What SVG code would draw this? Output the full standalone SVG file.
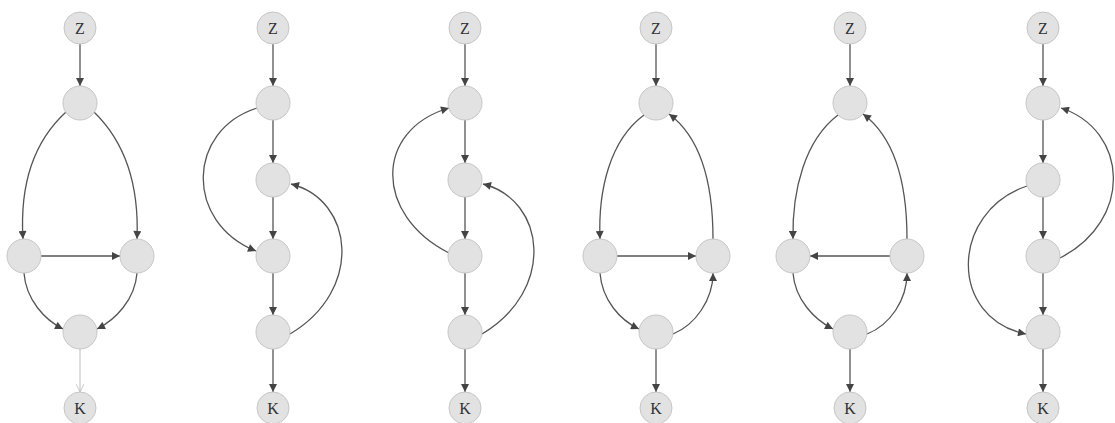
<svg xmlns="http://www.w3.org/2000/svg" width="1115" height="423" viewBox="0 0 1115 423">
<style>
.n{fill:#e2e2e2;stroke:#c6c6c6;stroke-width:1}
.t{font-family:"Liberation Serif",serif;font-size:16px;fill:#333;text-anchor:middle;dominant-baseline:central}
.e{fill:none;stroke:#555;stroke-width:1.3;marker-end:url(#ah)}
.f{fill:none;stroke:#aaa;stroke-width:0.8;marker-end:url(#ahl)}
</style>
<defs>
<marker id="ah" viewBox="0 0 10 10" refX="10" refY="5" markerUnits="userSpaceOnUse" markerWidth="10" markerHeight="8" orient="auto">
<path d="M0,0 L10,5 L0,10 z" fill="#444"/>
</marker>
<marker id="ahl" viewBox="0 0 10 10" refX="10" refY="5" markerUnits="userSpaceOnUse" markerWidth="10" markerHeight="8" orient="auto">
<path d="M0,0 L10,5 L0,10" fill="none" stroke="#bbb" stroke-width="1"/>
</marker>
</defs>
<g id="edges">
<!-- diagram 1 -->
<path class="e" d="M80,44 L80,86"/>
<path class="e" d="M66,112 C30,145 20,190 23,239"/>
<path class="e" d="M94,112 C128,145 139,190 137,239"/>
<path class="e" d="M41,256 L120,256"/>
<path class="e" d="M24,273 C26,300 45,320 63,329"/>
<path class="e" d="M137,273 C135,300 115,320 97,329"/>
<path class="f" d="M80,349 L80,392"/>
<!-- diagram 2 -->
<path class="e" d="M273,44 L273,86"/>
<path class="e" d="M273,120 L273,163"/>
<path class="e" d="M273,197 L273,239"/>
<path class="e" d="M273,273 L273,315"/>
<path class="e" d="M273,349 L273,392"/>
<path class="e" d="M257,108 C187,130 184,222 256,251"/>
<path class="e" d="M290,334 C364,290 354,200 291,184"/>
<!-- diagram 3 -->
<path class="e" d="M465,44 L465,86"/>
<path class="e" d="M465,120 L465,163"/>
<path class="e" d="M465,197 L465,239"/>
<path class="e" d="M465,273 L465,315"/>
<path class="e" d="M465,349 L465,392"/>
<path class="e" d="M449,253 C374,215 374,130 449,108"/>
<path class="e" d="M482,334 C556,290 546,200 483,184"/>
<!-- diagram 4 -->
<path class="e" d="M656,44 L656,86"/>
<path class="e" d="M644,115 C610,140 598,190 600,239"/>
<path class="e" d="M713,239 C713,190 704,140 669,114"/>
<path class="e" d="M617,256 L696,256"/>
<path class="e" d="M600,273 C602,300 620,320 639,329"/>
<path class="e" d="M673,334 C695,325 713,300 713,273"/>
<path class="e" d="M656,349 L656,392"/>
<!-- diagram 5 -->
<path class="e" d="M850,44 L850,86"/>
<path class="e" d="M838,115 C805,140 792,190 793,239"/>
<path class="e" d="M907,239 C907,190 898,140 863,114"/>
<path class="e" d="M890,256 L810,256"/>
<path class="e" d="M793,273 C795,300 815,320 833,329"/>
<path class="e" d="M867,334 C890,325 907,300 907,273"/>
<path class="e" d="M850,349 L850,392"/>
<!-- diagram 6 -->
<path class="e" d="M1043,44 L1043,86"/>
<path class="e" d="M1043,120 L1043,163"/>
<path class="e" d="M1043,197 L1043,239"/>
<path class="e" d="M1043,273 L1043,315"/>
<path class="e" d="M1043,349 L1043,392"/>
<path class="e" d="M1027,186 C950,212 948,318 1026,334"/>
<path class="e" d="M1060,258 C1134,220 1128,130 1061,108"/>
</g>
<g id="d1">
<g id="d1-z"><circle class="n" cx="80" cy="28" r="16"/><text class="t" x="80" y="28">Z</text></g>
<g id="d1-a"><circle class="n" cx="80" cy="103" r="17"/></g>
<g id="d1-l"><circle class="n" cx="24" cy="256" r="17"/></g>
<g id="d1-r"><circle class="n" cx="137" cy="256" r="17"/></g>
<g id="d1-b"><circle class="n" cx="80" cy="332" r="17"/></g>
<g id="d1-k"><circle class="n" cx="80" cy="408" r="16"/><text class="t" x="80" y="408">K</text></g>
</g>
<g id="d2">
<g id="d2-z"><circle class="n" cx="273" cy="28" r="16"/><text class="t" x="273" y="28">Z</text></g>
<g id="d2-a"><circle class="n" cx="273" cy="103" r="17"/></g>
<g id="d2-b"><circle class="n" cx="273" cy="180" r="17"/></g>
<g id="d2-c"><circle class="n" cx="273" cy="256" r="17"/></g>
<g id="d2-d"><circle class="n" cx="273" cy="332" r="17"/></g>
<g id="d2-k"><circle class="n" cx="273" cy="408" r="16"/><text class="t" x="273" y="408">K</text></g>
</g>
<g id="d3">
<g id="d3-z"><circle class="n" cx="465" cy="28" r="16"/><text class="t" x="465" y="28">Z</text></g>
<g id="d3-a"><circle class="n" cx="465" cy="103" r="17"/></g>
<g id="d3-b"><circle class="n" cx="465" cy="180" r="17"/></g>
<g id="d3-c"><circle class="n" cx="465" cy="256" r="17"/></g>
<g id="d3-d"><circle class="n" cx="465" cy="332" r="17"/></g>
<g id="d3-k"><circle class="n" cx="465" cy="408" r="16"/><text class="t" x="465" y="408">K</text></g>
</g>
<g id="d4">
<g id="d4-z"><circle class="n" cx="656" cy="28" r="16"/><text class="t" x="656" y="28">Z</text></g>
<g id="d4-a"><circle class="n" cx="656" cy="103" r="17"/></g>
<g id="d4-l"><circle class="n" cx="600" cy="256" r="17"/></g>
<g id="d4-r"><circle class="n" cx="713" cy="256" r="17"/></g>
<g id="d4-b"><circle class="n" cx="656" cy="332" r="17"/></g>
<g id="d4-k"><circle class="n" cx="656" cy="408" r="16"/><text class="t" x="656" y="408">K</text></g>
</g>
<g id="d5">
<g id="d5-z"><circle class="n" cx="850" cy="28" r="16"/><text class="t" x="850" y="28">Z</text></g>
<g id="d5-a"><circle class="n" cx="850" cy="103" r="17"/></g>
<g id="d5-l"><circle class="n" cx="793" cy="256" r="17"/></g>
<g id="d5-r"><circle class="n" cx="907" cy="256" r="17"/></g>
<g id="d5-b"><circle class="n" cx="850" cy="332" r="17"/></g>
<g id="d5-k"><circle class="n" cx="850" cy="408" r="16"/><text class="t" x="850" y="408">K</text></g>
</g>
<g id="d6">
<g id="d6-z"><circle class="n" cx="1043" cy="28" r="16"/><text class="t" x="1043" y="28">Z</text></g>
<g id="d6-a"><circle class="n" cx="1043" cy="103" r="17"/></g>
<g id="d6-b"><circle class="n" cx="1043" cy="180" r="17"/></g>
<g id="d6-c"><circle class="n" cx="1043" cy="256" r="17"/></g>
<g id="d6-d"><circle class="n" cx="1043" cy="332" r="17"/></g>
<g id="d6-k"><circle class="n" cx="1043" cy="408" r="16"/><text class="t" x="1043" y="408">K</text></g>
</g>
</svg>
